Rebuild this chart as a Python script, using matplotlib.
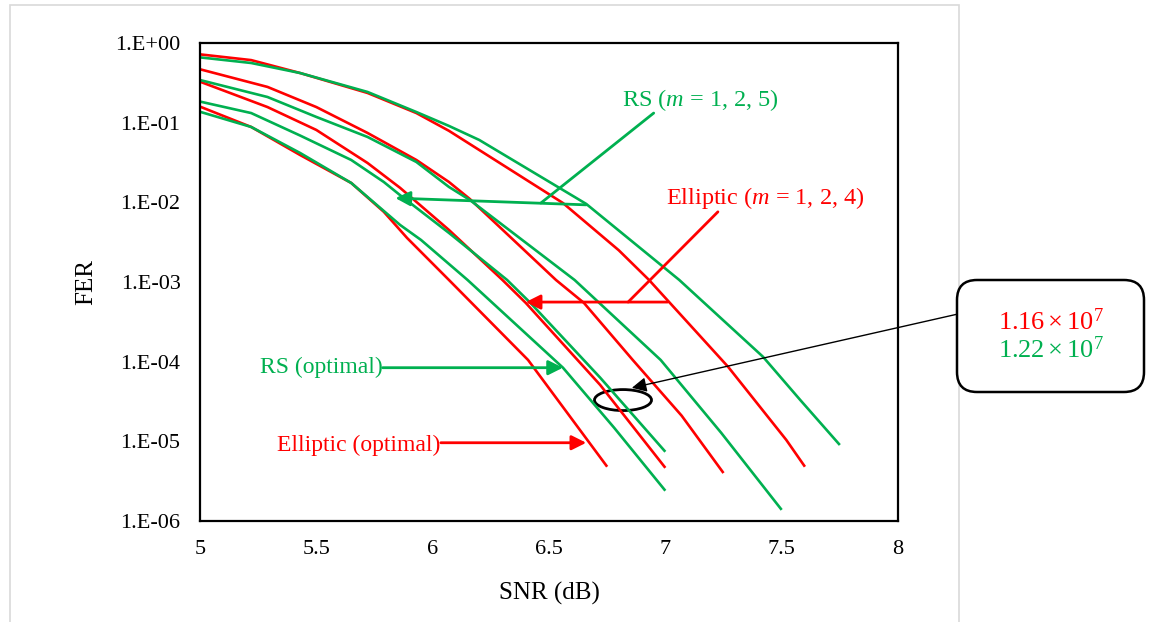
import numpy as np
import matplotlib.pyplot as plt
from matplotlib.patches import Ellipse, FancyBboxPatch, Rectangle

plt.rcParams['font.family'] = ['Liberation Serif', 'DejaVu Serif']
plt.rcParams['mathtext.fontset'] = 'custom'
plt.rcParams['mathtext.rm'] = 'Liberation Serif'
plt.rcParams['mathtext.it'] = 'Liberation Serif:italic'

RED = '#FF0000'
GREEN = '#00B050'

# Elliptic curves (m = 1, 2, 4) and optimal
ell_m1_snr = [5.00, 5.22, 5.43, 5.72, 5.93, 6.07, 6.56, 6.80, 6.93, 7.27, 7.52, 7.60]
ell_m1_fer = [0.72, 0.61, 0.42, 0.236, 0.132, 0.079, 9.8e-3, 2.5e-3, 1.06e-3, 8.6e-5, 1.04e-5, 4.8e-6]
ell_m2_snr = [5.00, 5.29, 5.50, 5.72, 5.93, 6.07, 6.16, 6.53, 6.65, 6.86, 7.07, 7.25]
ell_m2_fer = [0.468, 0.281, 0.157, 0.0743, 0.034, 0.018, 0.011, 1.06e-3, 5.47e-4, 1.05e-4, 2.1e-5, 4.0e-6]
ell_m4_snr = [5.00, 5.29, 5.50, 5.72, 5.86, 6.07, 6.30, 6.40, 6.72, 7.00]
ell_m4_fer = [0.327, 0.157, 0.081, 0.0312, 0.0152, 4.5e-3, 1.06e-3, 5.47e-4, 5.1e-5, 4.65e-6]
ell_opt_snr = [5.00, 5.22, 5.43, 5.65, 5.79, 5.89, 6.07, 6.41, 6.75]
ell_opt_fer = [0.159, 0.0883, 0.0393, 0.0175, 7.6e-3, 3.57e-3, 1.06e-3, 1.05e-4, 4.8e-6]

# RS curves (m = 1, 2, 5) and optimal
rs_m1_snr = [5.00, 5.22, 5.43, 5.72, 5.93, 6.07, 6.20, 6.66, 7.06, 7.42, 7.58, 7.75]
rs_m1_fer = [0.66, 0.561, 0.42, 0.243, 0.136, 0.091, 0.0607, 9.55e-3, 1.06e-3, 1.15e-4, 3.3e-5, 9.0e-6]
rs_m2_snr = [5.00, 5.29, 5.50, 5.72, 5.93, 6.07, 6.16, 6.61, 6.98, 7.24, 7.50]
rs_m2_fer = [0.343, 0.21, 0.118, 0.0662, 0.0321, 0.0156, 0.0107, 1.06e-3, 1.05e-4, 1.28e-5, 1.38e-6]
rs_m5_snr = [5.00, 5.22, 5.43, 5.65, 5.79, 5.86, 6.07, 6.32, 6.42, 6.72, 7.00]
rs_m5_fer = [0.184, 0.132, 0.069, 0.034, 0.018, 0.0123, 4.13e-3, 1.06e-3, 5.47e-4, 6.3e-5, 7.4e-6]
rs_opt_snr = [5.00, 5.22, 5.43, 5.65, 5.86, 5.95, 6.15, 6.56, 6.78, 7.00]
rs_opt_fer = [0.137, 0.0883, 0.0417, 0.0175, 5.2e-3, 3.37e-3, 1.06e-3, 8.4e-5, 1.48e-5, 2.4e-6]

x_ticks = [5, 5.5, 6, 6.5, 7, 7.5, 8]
x_labels = ['5', '5.5', '6', '6.5', '7', '7.5', '8']
y_ticks = [1, 1e-1, 1e-2, 1e-3, 1e-4, 1e-5, 1e-6]
y_labels = ['1.E+00', '1.E-01', '1.E-02', '1.E-03', '1.E-04', '1.E-05', '1.E-06']

fig = plt.figure(figsize=(11.56, 6.22), dpi=100)
ax = fig.add_axes([200/1156, 1-521/622, 698/1156, 478/622])

# outer light frame of the chart area
fig.patches.append(Rectangle((0.10, -0.2), 9.49, 6.37, transform=fig.dpi_scale_trans,
                             fill=False, edgecolor='#D9D9D9', lw=1.2))

lw = 1.9
for s, f in [(ell_m1_snr, ell_m1_fer), (ell_m2_snr, ell_m2_fer),
             (ell_m4_snr, ell_m4_fer), (ell_opt_snr, ell_opt_fer)]:
    ax.semilogy(s, f, color=RED, lw=lw, solid_capstyle='butt')
for s, f in [(rs_m1_snr, rs_m1_fer), (rs_m2_snr, rs_m2_fer),
             (rs_m5_snr, rs_m5_fer), (rs_opt_snr, rs_opt_fer)]:
    ax.semilogy(s, f, color=GREEN, lw=lw, solid_capstyle='butt')

ax.set_xlim(5, 8)
ax.set_ylim(1e-6, 1)
ax.set_xticks(x_ticks)
ax.set_xticklabels(x_labels)
ax.set_yticks(y_ticks)
ax.set_yticklabels(y_labels)
ax.minorticks_off()
ax.tick_params(length=0, labelsize=16, pad=14)
for sp in ax.spines.values():
    sp.set_linewidth(1.6)
ax.set_xlabel('SNR (dB)', fontsize=18, labelpad=16)
ax.set_ylabel('FER', fontsize=18, labelpad=13)

# annotations
def arrow(tip, tail, color, style='-|>'):
    ax.annotate('', xy=tip, xytext=tail,
                arrowprops=dict(arrowstyle=style, color=color, lw=2,
                                mutation_scale=22, shrinkA=0, shrinkB=0))

# RS (m = 1, 2, 5)
ax.text(7.15, 0.19, 'RS ($m$ = 1, 2, 5)', color=GREEN, fontsize=17.5, ha='center', va='center')
arrow((5.84, 1.13e-2), (6.66, 9.3e-3), GREEN)
arrow((6.465, 9.8e-3), (6.95, 0.132), GREEN, '-')

# Elliptic (m = 1, 2, 4)
ax.text(7.43, 0.0114, 'Elliptic ($m$ = 1, 2, 4)', color=RED, fontsize=17.5, ha='center', va='center')
arrow((6.40, 5.6e-4), (7.01, 5.6e-4), RED)
arrow((6.84, 5.6e-4), (7.226, 7.6e-3), RED, '-')

# optimal labels
ax.text(5.785, 8.4e-5, 'RS (optimal)', color=GREEN, fontsize=17, ha='right', va='center')
arrow((6.56, 8.4e-5), (5.785, 8.4e-5), GREEN)
ax.text(6.035, 9.0e-6, 'Elliptic (optimal)', color=RED, fontsize=17, ha='right', va='center')
arrow((6.66, 9.6e-6), (6.035, 9.6e-6), RED)

# ellipse highlight
ax.add_patch(Ellipse((0.606, 0.253), 0.0817, 0.0439, transform=ax.transAxes,
                     fill=False, edgecolor='black', lw=2))

# callout box
fig.patches.append(FancyBboxPatch((9.57, 2.30), 1.87, 1.12,
                                  boxstyle='round,pad=0,rounding_size=0.2',
                                  transform=fig.dpi_scale_trans,
                                  facecolor='white', edgecolor='black', lw=1.8))
ax.annotate('', xy=(6.856, 4.69e-5), xytext=(958, 308), textcoords='figure pixels',
            arrowprops=dict(arrowstyle='-|>', color='black', lw=1,
                            mutation_scale=22, shrinkA=0, shrinkB=0),
            annotation_clip=False)
fig.text(10.51/11.56, 3.00/6.22, r'$1.16\times10^{7}$', color=RED, fontsize=19,
         ha='center', va='center')
fig.text(10.51/11.56, 2.72/6.22, r'$1.22\times10^{7}$', color=GREEN, fontsize=19,
         ha='center', va='center')

fig.savefig('out.png', dpi=100)
